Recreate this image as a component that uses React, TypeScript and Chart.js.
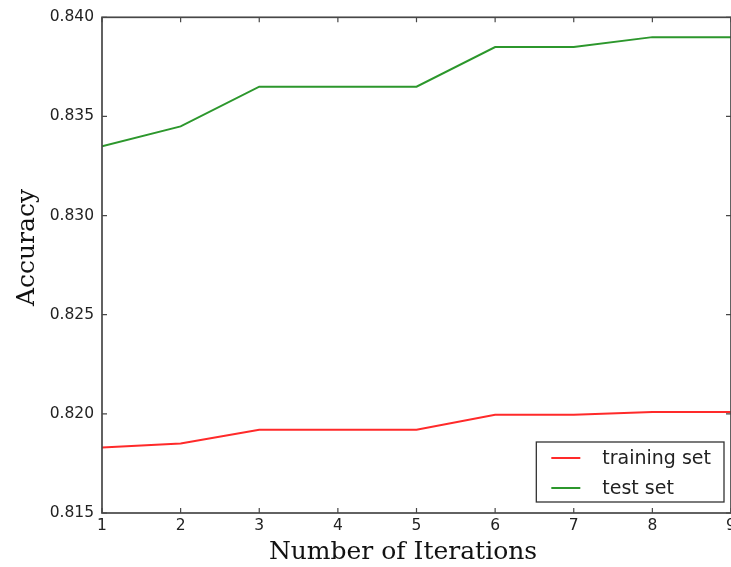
import React, { useEffect, useRef } from "react";
import { Chart, registerables } from "chart.js";

Chart.register(...registerables);

// Boosting iterations vs. accuracy
const iterations = [1, 2, 3, 4, 5, 6, 7, 8, 9];
const trainingAcc = [0.8183, 0.8185, 0.8192, 0.8192, 0.8192, 0.81995, 0.81995, 0.8201, 0.8201];
const testAcc = [0.8335, 0.8345, 0.8365, 0.8365, 0.8365, 0.8385, 0.8385, 0.839, 0.839];
const yTicks = [0.815, 0.82, 0.825, 0.83, 0.835, 0.84];

const seriesLabels = ["training set", "test set"];
const seriesColors = ["#ff2a2a", "#2c972c"];

const xTitle = "Number of Iterations";
const yTitle = "Accuracy";

const FRAME = "#474747";

// Frame on all four sides with inward-pointing ticks, plus axis titles and boxed legend
const framePlugin = {
  id: "frameAndLegend",
  afterDatasetsDraw(chart: any) {
    const { ctx, chartArea: a, scales } = chart;
    const xs = scales.x;
    const ys = scales.y;
    ctx.save();
    ctx.strokeStyle = FRAME;
    ctx.lineWidth = 1.7;
    ctx.strokeRect(a.left, a.top, a.right - a.left, a.bottom - a.top);

    ctx.lineWidth = 1.2;
    const tl = 5;
    ctx.beginPath();
    for (const v of iterations) {
      const px = xs.getPixelForValue(v);
      ctx.moveTo(px, a.bottom);
      ctx.lineTo(px, a.bottom - tl);
      ctx.moveTo(px, a.top);
      ctx.lineTo(px, a.top + tl);
    }
    for (const v of yTicks) {
      const py = ys.getPixelForValue(v);
      ctx.moveTo(a.left, py);
      ctx.lineTo(a.left + tl, py);
      ctx.moveTo(a.right, py);
      ctx.lineTo(a.right - tl, py);
    }
    ctx.stroke();

    // legend box in the lower right of the plot
    ctx.font = "19px 'DejaVu Sans'";
    const labels = chart.data.datasets.map((d: any) => d.label);
    const maxW = Math.max(...labels.map((l: string) => ctx.measureText(l).width));
    const lineLen = 29;
    const boxW = 15 + lineLen + 22 + maxW + 13;
    const rowH = 30;
    const boxH = rowH * labels.length;
    const bx = a.right - 7 - boxW;
    const by = a.bottom - 11 - boxH;
    ctx.fillStyle = "#ffffff";
    ctx.fillRect(bx, by, boxW, boxH);
    ctx.strokeStyle = "#333333";
    ctx.lineWidth = 1.3;
    ctx.strokeRect(bx, by, boxW, boxH);
    chart.data.datasets.forEach((d: any, i: number) => {
      const cy = by + 16 + rowH * i;
      ctx.strokeStyle = d.borderColor;
      ctx.lineWidth = 2;
      ctx.beginPath();
      ctx.moveTo(bx + 15, cy);
      ctx.lineTo(bx + 15 + lineLen, cy);
      ctx.stroke();
      ctx.fillStyle = "#222222";
      ctx.textBaseline = "middle";
      ctx.textAlign = "left";
      ctx.fillText(d.label, bx + 15 + lineLen + 22, cy + 1);
    });

    // axis titles
    ctx.fillStyle = "#111111";
    ctx.font = "25px 'DejaVu Serif'";
    ctx.textAlign = "center";
    ctx.textBaseline = "alphabetic";
    ctx.fillText(xTitle, 403, 559);
    ctx.translate(34, 247.5);
    ctx.rotate(-Math.PI / 2);
    ctx.fillText(yTitle, 0, 0);
    ctx.restore();
  },
};

export default function App() {
  const ref = useRef<HTMLCanvasElement>(null);
  useEffect(() => {
    if (!ref.current) return;
    const chart = new Chart(ref.current, {
      type: "line",
      data: {
        labels: iterations,
        datasets: [
          {
            label: seriesLabels[0],
            data: iterations.map((x, i) => ({ x, y: trainingAcc[i] })),
            borderColor: seriesColors[0],
            borderWidth: 2,
            pointRadius: 0,
            tension: 0,
          },
          {
            label: seriesLabels[1],
            data: iterations.map((x, i) => ({ x, y: testAcc[i] })),
            borderColor: seriesColors[1],
            borderWidth: 2,
            pointRadius: 0,
            tension: 0,
          },
        ],
      },
      options: {
        animation: false,
        responsive: false,
        layout: { padding: { top: 16, right: 14, bottom: 0, left: 0 } },
        plugins: { legend: { display: false }, tooltip: { enabled: false } },
        scales: {
          x: {
            type: "linear",
            min: 1,
            max: 9,
            grid: { display: false, drawTicks: false },
            border: { display: false },
            afterBuildTicks: (s: any) => {
              s.ticks = iterations.map((v) => ({ value: v }));
            },
            afterFit: (s: any) => {
              s.height = 54;
            },
            ticks: {
              color: "#222222",
              font: { family: "'DejaVu Sans'", size: 15.5 },
              padding: 4,
              maxRotation: 0,
              callback: (v: any) => String(v),
            },
          },
          y: {
            type: "linear",
            min: 0.815,
            max: 0.84,
            grid: { display: false, drawTicks: false },
            border: { display: false },
            afterBuildTicks: (s: any) => {
              s.ticks = yTicks.map((v) => ({ value: v }));
            },
            afterFit: (s: any) => {
              s.width = 102;
            },
            ticks: {
              color: "#222222",
              font: { family: "'DejaVu Sans'", size: 15.5 },
              padding: 8,
              callback: (v: any) => Number(v).toFixed(3),
            },
          },
        },
      },
      plugins: [framePlugin],
    });
    return () => chart.destroy();
  }, []);

  return (
    <div style={{ position: "fixed", left: 0, top: 0, width: 745, height: 567, background: "#fff" }}>
      <canvas ref={ref} width={745} height={567} style={{ display: "block" }} />
    </div>
  );
}
